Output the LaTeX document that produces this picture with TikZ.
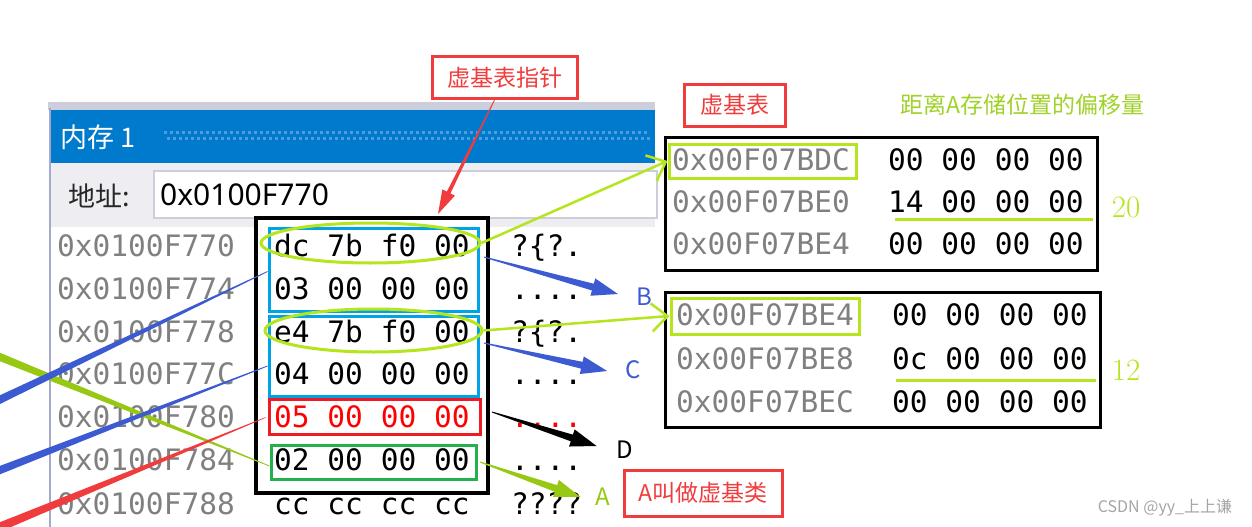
\documentclass[tikz,border=0pt]{standalone}
\usepackage{fontspec}
\newfontfamily\cjkfont{Noto Sans CJK SC}
\newfontfamily\monofont{DejaVu Sans Mono}
\newfontfamily\uifont{Noto Sans}
\usetikzlibrary{calc,shapes.geometric,arrows.meta}
\definecolor{vsblue}{RGB}{0,122,204}
\definecolor{dotblue}{RGB}{80,155,220}
\definecolor{bandgray}{RGB}{238,238,242}
\definecolor{edgegray}{RGB}{204,206,219}
\definecolor{winline}{RGB}{165,170,205}
\definecolor{addrgray}{RGB}{128,128,128}
\definecolor{boxblue}{RGB}{0,162,232}
\definecolor{boxred}{RGB}{237,28,36}
\definecolor{boxgreen}{RGB}{34,177,76}
\definecolor{limeg}{RGB}{181,230,29}
\definecolor{olivelime}{RGB}{150,200,20}
\definecolor{arrowblue}{RGB}{60,90,210}
\definecolor{labred}{RGB}{240,60,60}
\definecolor{hexred}{RGB}{255,0,0}
\definecolor{wmgray}{RGB}{165,165,165}
\definecolor{notegreen}{RGB}{160,210,40}
\newcommand\taperline[5]{%
  \fill[#1] ($(#2)!#4!90:(#3)$) -- ($(#3)!#5!-90:(#2)$) -- ($(#3)!#5!90:(#2)$) -- ($(#2)!#4!-90:(#3)$) -- cycle;}
\newcommand\taperarrow[7]{%
  \coordinate (tpN) at ($(#3)!#6!(#2)$);
  \fill[#1] ($(#2)!#4!90:(#3)$) -- ($(tpN)!#5!-90:(#2)$) -- ($(tpN)!#7!-90:(#2)$) -- (#3) -- ($(tpN)!#7!90:(#2)$) -- ($(tpN)!#5!90:(#2)$) -- ($(#2)!#4!-90:(#3)$) -- cycle;}
\begin{document}
\begin{tikzpicture}[x=1pt,y=-1pt,
  addr/.style={font=\monofont\fontsize{29.5}{30}\selectfont, text=addrgray, anchor=base west, inner sep=0pt},
  hexv/.style={font=\monofont\fontsize{29.5}{30}\selectfont, text=black, anchor=base west, inner sep=0pt},
  frame/.style={draw=black, line width=3.5pt, inner sep=0pt, fill=white},
  hlbox/.style={draw=#1, line width=3pt, inner sep=0pt},
  redlabel/.style={draw=labred, line width=3pt, text=labred, font=\cjkfont\fontsize{23}{26}\selectfont, inner sep=0pt},
  letter/.style={font=\cjkfont\fontsize{24}{26}\selectfont, inner sep=0pt},
  ptr/.style={draw=limeg, line width=2.5pt, -{Straight Barb[length=16pt,width=28pt]}},
  uline/.style={draw=limeg, line width=3pt},
  offset/.style={font=\fontsize{31}{33}\selectfont, text=limeg, inner sep=0pt}
]
\useasboundingbox (0,0) rectangle (1252,527);
\clip (0,0) rectangle (1252,527);
\fill[white] (0,0) rectangle (1252,527);
% memory window
\fill[edgegray] (48,102) rectangle (655,110);
\fill[vsblue] (50,110) rectangle (655,163);
\draw[dotblue, line width=3pt, dash pattern=on 3pt off 3pt] (164,132) -- (650,132);
\draw[dotblue, line width=3pt, dash pattern=on 3pt off 3pt, dash phase=3pt] (164,138) -- (650,138);
\fill[bandgray] (50,163) rectangle (655,227);
\draw[winline, line width=2pt] (50,108) -- (50,527);
\node[font=\cjkfont\fontsize{27}{29}\selectfont, text=white, anchor=west, inner sep=0pt] (title) at (60,137) {内存 1};
\node[font=\cjkfont\fontsize{27}{29}\selectfont, text=black!85, anchor=west, inner sep=0pt] (addrlabel) at (68,196) {地址:};
\draw[edgegray, line width=2pt, fill=white] (154,171) rectangle (657,218);
\node[font=\uifont\fontsize{30}{32}\selectfont, anchor=west, inner sep=0pt] (addrbox) at (160,195) {0x0100F770};
% memory frame
\node[frame, minimum width=232pt, minimum height=275pt] (mem) at (372,355.5) {};
% rows
\node[addr] (a0) at (57,256) {0x0100F770};
\node[addr] (a1) at (57,299) {0x0100F774};
\node[addr] (a2) at (57,342) {0x0100F778};
\node[addr] (a3) at (57,384) {0x0100F77C};
\node[addr] (a4) at (57,427) {0x0100F780};
\node[addr] (a5) at (57,470) {0x0100F784};
\node[addr] (a6) at (57,514) {0x0100F788};
\node[hexv] (h0) at (274,256) {dc 7b f0 00};
\node[hexv] (h1) at (274,299) {03 00 00 00};
\node[hexv] (h2) at (274,342) {e4 7b f0 00};
\node[hexv] (h3) at (274,384) {04 00 00 00};
\node[hexv, text=hexred] (h4) at (274,427) {05 00 00 00};
\node[hexv] (h5) at (274,470) {02 00 00 00};
\node[hexv] (h6) at (274,514) {cc cc cc cc};
\node[hexv] (s0) at (511,256) {?\{?.};
\node[hexv] (s1) at (511,299) {....};
\node[hexv] (s2) at (511,342) {?\{?.};
\node[hexv] (s3) at (511,384) {....};
\node[hexv, text=hexred] (s4) at (511,427) {....};
\node[hexv] (s5) at (511,470) {....};
\node[hexv] (s6) at (511,514) {????};
% highlight boxes
\node[hlbox=boxblue, minimum width=209pt, minimum height=83pt] (bb1) at (373.5,269.5) {};
\node[hlbox=boxblue, minimum width=209pt, minimum height=80pt] (bb2) at (373.5,356) {};
\node[hlbox=boxred, minimum width=211pt, minimum height=35pt] (rb) at (374.5,416.5) {};
\node[hlbox=boxgreen, minimum width=205pt, minimum height=34pt] (gb) at (373.5,462) {};
\node[ellipse, draw=limeg, line width=3pt, minimum width=219pt, minimum height=40pt, inner sep=0pt] (e1) at (370.5,243) {};
\node[ellipse, draw=limeg, line width=3pt, minimum width=217pt, minimum height=43pt, inner sep=0pt] (e2) at (373.5,330.5) {};
% vbtable 1
\node[frame, line width=3pt, minimum width=432pt, minimum height=133pt] (t1) at (881,203.5) {};
\node[addr] (t1a0) at (672,170) {0x00F07BDC};
\node[addr] (t1a1) at (672,212) {0x00F07BE0};
\node[addr] (t1a2) at (672,254) {0x00F07BE4};
\node[hexv] (t1h0) at (888,170) {00 00 00 00};
\node[hexv] (t1h1) at (888,212) {14 00 00 00};
\node[hexv] (t1h2) at (888,254) {00 00 00 00};
\node[hlbox=limeg, minimum width=187pt, minimum height=34pt] (t1g) at (762.5,161) {};
\draw[uline] (895,219) -- (1093,219);
\node[offset] (off1) at (1126,208) {20};
% vbtable 2
\node[frame, line width=3pt, minimum width=435pt, minimum height=135pt] (t2) at (882.5,359.5) {};
\node[addr] (t2a0) at (676,325) {0x00F07BE4};
\node[addr] (t2a1) at (676,369) {0x00F07BE8};
\node[addr] (t2a2) at (676,412) {0x00F07BEC};
\node[hexv] (t2h0) at (892,325) {00 00 00 00};
\node[hexv] (t2h1) at (892,369) {0c 00 00 00};
\node[hexv] (t2h2) at (892,412) {00 00 00 00};
\node[hlbox=limeg, minimum width=188pt, minimum height=36pt] (t2g) at (765,316) {};
\draw[uline] (896,380) -- (1096,380);
\node[offset] (off2) at (1126,370) {12};
% labels
\node[redlabel, minimum width=145pt, minimum height=41pt] (ptrlabel) at (504.5,77.5) {虚基表指针};
\node[redlabel, minimum width=101pt, minimum height=42pt] (tablabel) at (734.5,105) {虚基表};
\node[redlabel, minimum width=158pt, minimum height=46pt] (alabel) at (703,493) {A叫做虚基类};
\node[font=\cjkfont\fontsize{23}{26}\selectfont, text=notegreen, inner sep=0pt] (note) at (1022,105) {距离A存储位置的偏移量};
\node[font=\cjkfont\fontsize{16}{18}\selectfont, text=wmgray, inner sep=0pt] (wm) at (1165,508) {CSDN @yy\_上上谦};
\node[letter, text=arrowblue] (lb) at (644,297) {B};
\node[letter, text=arrowblue] (lc) at (633,370) {C};
\node[letter, text=black] (ld) at (625,450) {D};
\node[letter, text=olivelime] (la) at (603,497) {A};
% pointers to the vbtables
\draw[ptr] (e1.east) -- (t1g.west);
\draw[ptr] (e2.east) -- (t2g.west);
% tapered arrows
\coordinate (ptrstart) at (495,99);
\coordinate (ptrtip) at (438,214);
\taperarrow{labred}{ptrstart}{ptrtip}{0.4pt}{2pt}{24pt}{7pt}
\coordinate (bs) at (484,257);
\coordinate (bt) at ($(lb.west)+(-18,-3)$);
\taperarrow{arrowblue}{bs}{bt}{0.5pt}{3.5pt}{26pt}{9pt}
\coordinate (cs) at (484,343);
\coordinate (ct) at ($(lc.west)+(-18,1)$);
\taperarrow{arrowblue}{cs}{ct}{0.5pt}{3.5pt}{26pt}{9pt}
\coordinate (ds) at (492,412);
\coordinate (dt) at ($(ld.west)+(-20,-4)$);
\taperarrow{black}{ds}{dt}{0.5pt}{3.5pt}{26pt}{9pt}
\coordinate (as) at (480,462);
\coordinate (at) at ($(la.west)+(-15,0)$);
\taperarrow{olivelime}{as}{at}{0.5pt}{3.5pt}{26pt}{9pt}
% strokes from the left
\coordinate (gl) at (-5,355);
\coordinate (gr) at ($(gb.west)+(0,4)$);
\taperline{olivelime}{gl}{gr}{4pt}{0.4pt}
\coordinate (b1l) at (-5,402);
\coordinate (b1r) at ($(bb1.west)+(0,2)$);
\taperline{arrowblue}{b1l}{b1r}{4pt}{0.4pt}
\coordinate (b2l) at (-5,472);
\coordinate (b2r) at ($(bb2.west)+(0,10)$);
\taperline{arrowblue}{b2l}{b2r}{4pt}{0.4pt}
\coordinate (rl) at (-5,529);
\coordinate (rr) at ($(rb.west)+(-2,1)$);
\taperline{labred}{rl}{rr}{4.5pt}{0.3pt}
\end{tikzpicture}
\end{document}
